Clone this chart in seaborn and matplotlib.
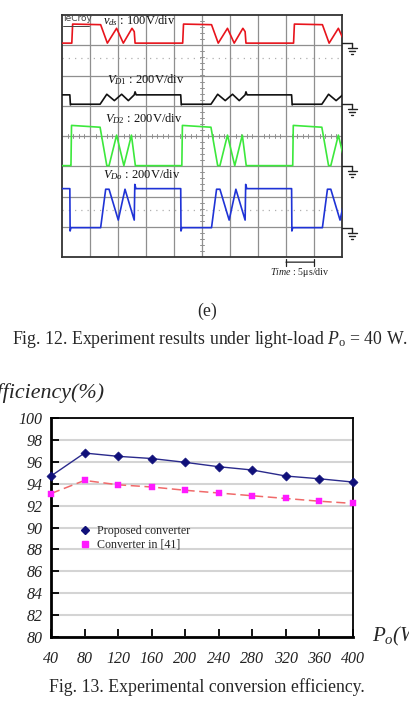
import numpy as np
import pandas as pd
import matplotlib
matplotlib.use("Agg")
import matplotlib.pyplot as plt
import seaborn as sns
from matplotlib.lines import Line2D

W, H = 409, 703

# ---------------- data: oscilloscope (units: divisions) ----------------
PERIOD = 3.96          # one switching period (div)
T0 = 0.28              # first period start (div)
vds_t = [0.00, 0.07, 0.10, 1.10, 1.34, 1.67, 1.91, 2.22, 2.30, 2.33, 3.96]
vds_v = [7.07, 7.07, 7.70, 7.68, 7.07, 7.56, 7.07, 7.56, 7.45, 7.07, 7.07]
vd1_t = [0.00, 0.02, 0.05, 1.08, 1.32, 1.59, 1.85, 2.09, 2.30, 2.33, 2.37, 3.96]
vd1_v = [5.36, 5.03, 5.05, 5.05, 5.38, 5.17, 5.38, 5.17, 5.36, 5.46, 5.36, 5.36]
vd2_t = [0.00, 0.04, 0.06, 1.08, 1.32, 1.40, 1.67, 1.93, 2.20, 2.34, 3.96]
vd2_v = [3.02, 3.02, 4.35, 4.29, 3.02, 3.02, 4.03, 3.02, 4.03, 3.02, 3.02]
vdo_t = [0.00, 0.01, 0.04, 1.10, 1.28, 1.40, 1.73, 1.97, 2.30, 2.32, 2.36, 3.96]
vdo_v = [2.26, 0.86, 0.97, 0.97, 2.24, 2.24, 1.22, 2.24, 1.22, 2.40, 2.26, 2.26]
ground_levels = [7.07, 5.05, 3.02, 0.97]
dotted_levels = [6.57, 1.55]

# ---------------- data: efficiency ----------------
power = [40, 80, 120, 160, 200, 240, 280, 320, 360, 400]
proposed = [94.7, 96.8, 96.5, 96.3, 95.95, 95.55, 95.25, 94.7, 94.45, 94.15]
conv41 = [93.1, 94.3, 93.9, 93.7, 93.4, 93.15, 92.9, 92.65, 92.4, 92.2]
yticks = list(range(80, 101, 2))
xticks = list(range(40, 401, 40))

sns.set_style("white")
plt.rcParams["font.family"] = ["Liberation Serif", "DejaVu Serif"]
plt.rcParams["mathtext.fontset"] = "custom"
plt.rcParams["mathtext.rm"] = "Liberation Serif"
plt.rcParams["mathtext.it"] = "Liberation Serif:italic"

def pt(px):
    return px * 72 / 100

def fx(px):
    return px / W

def fy(py):
    return 1 - py / H

fig = plt.figure(figsize=(W / 100, H / 100), dpi=100)
fig.patch.set_facecolor("white")

# ================= oscilloscope panel =================
ax1 = fig.add_axes([fx(62), fy(257), 280 / W, 242 / H])
ax1.set_xlim(0, 10)
ax1.set_ylim(0, 8)
for i in range(1, 10):
    ax1.axvline(i, color="#8f8f8f", lw=0.9, zorder=1)
for j in range(1, 8):
    ax1.axhline(j, color="#8f8f8f", lw=0.9, zorder=1)
for lv in dotted_levels:
    ax1.axhline(lv, color="#b0b0b0", lw=0.9, ls=(0, (1, 4)), zorder=1)
# centre-cross minor ticks
for k in np.arange(0.2, 10, 0.2):
    ax1.plot([k, k], [3.95, 4.05], color="#8f8f8f", lw=0.7, zorder=1)
for k in np.arange(0.2, 8, 0.2):
    ax1.plot([4.93, 5.07], [k, k], color="#8f8f8f", lw=0.7, zorder=1)

def tiled(ts, vs):
    tt, vv = [], []
    for k in range(-1, 3):
        tt += [t + T0 + k * PERIOD for t in ts]
        vv += list(vs)
    return pd.DataFrame({"t": tt, "v": vv})

traces = [
    (vds_t, vds_v, "#e8141c"),
    (vd1_t, vd1_v, "#111111"),
    (vd2_t, vd2_v, "#3ce83c"),
    (vdo_t, vdo_v, "#1f33d6"),
]
for ts, vs, col in traces:
    df = tiled(ts, vs)
    sns.lineplot(data=df, x="t", y="v", sort=False, estimator=None,
                 color=col, lw=1.2, ax=ax1, zorder=3)

ax1.set_xlim(0, 10)
ax1.set_ylim(0, 8)
ax1.set_xticks([])
ax1.set_yticks([])
ax1.set_xlabel("")
ax1.set_ylabel("")
for s in ax1.spines.values():
    s.set_color("#333333")
    s.set_linewidth(1.3)

# ground symbols
for lv in ground_levels:
    kw = dict(color="#222222", lw=1.0, clip_on=False, zorder=4)
    ax1.plot([10, 10.36], [lv, lv], **kw)
    ax1.plot([10.36, 10.36], [lv, lv - 0.17], **kw)
    ax1.plot([10.2, 10.52], [lv - 0.17, lv - 0.17], **kw)
    ax1.plot([10.26, 10.46], [lv - 0.27, lv - 0.27], **kw)
    ax1.plot([10.31, 10.41], [lv - 0.37, lv - 0.37], **kw)

lab = dict(fontsize=pt(12.5), va="center", ha="left", color="#111111", zorder=5)
ax1.text(1.46, 7.82, r"$v_{ds}$ : 100V/div", **lab)
ax1.text(1.60, 5.85, r"$V_{D1}$ : 200V/div", **lab)
ax1.text(1.54, 4.58, r"$V_{D2}$ : 200V/div", **lab)
ax1.text(1.48, 2.71, r"$V_{Do}$ : 200V/div", **lab)
ax1.text(0.04, 7.87, "leCroy", fontsize=pt(9), color="#444444", va="center",
         ha="left", family="DejaVu Sans", zorder=5)
ax1.plot([0.04, 0.95], [7.64, 7.64], color="#444444", lw=0.7, zorder=5)

ax1.annotate("", xy=(9, -0.17), xytext=(8, -0.17), xycoords="data",
             arrowprops=dict(arrowstyle="|-|", lw=0.9, color="#222222",
                             mutation_scale=2.5, shrinkA=0, shrinkB=0),
             annotation_clip=False)
ax1.text(8.5, -0.5, r"$\mathit{Time}$ : 5μs/div", fontsize=pt(10),
         ha="center", va="center", color="#222222")

fig.text(fx(207), fy(311), "(e)", fontsize=pt(17.8), ha="center", va="center")
fig.text(fx(210), fy(340), r"Fig. 12. Experiment results under light-load $P_{\mathrm{o}}$ = 40 W.",
         fontsize=pt(17.8), ha="center", va="center")

# ================= efficiency panel =================
ax2 = fig.add_axes([fx(51), fy(637), 302 / W, 219 / H])
df2 = pd.DataFrame({"P": power * 2, "eff": proposed + conv41,
                    "conv": ["Proposed converter"] * len(power) + ["Converter in [41]"] * len(power)})
d1 = df2[df2.conv == "Proposed converter"]
d2 = df2[df2.conv == "Converter in [41]"]
sns.lineplot(data=d1, x="P", y="eff", color="#2a2a8c", lw=1.0, ax=ax2, zorder=3)
sns.lineplot(data=d2, x="P", y="eff", color="#f06a6a", lw=1.1, ax=ax2,
             dashes=False, zorder=3, linestyle=(0, (6, 3)))
sns.scatterplot(data=d1, x="P", y="eff", marker="D", s=22, color="#10107a",
                edgecolor="#10107a", linewidth=0.4, ax=ax2, zorder=4, clip_on=False)
sns.scatterplot(data=d2, x="P", y="eff", marker="s", s=24, color="#ff1aff",
                edgecolor="#ff1aff", linewidth=0.3, ax=ax2, zorder=4, clip_on=False)

ax2.set_xlim(40, 400)
ax2.set_ylim(80, 100)
ax2.set_yticks(yticks)
ax2.set_xticks(xticks)
ax2.set_xlabel("")
ax2.set_ylabel("")
ax2.yaxis.grid(True, color="#d4d4d4", lw=1.5, zorder=0)
ax2.xaxis.grid(False)
ax2.set_axisbelow(True)
ax2.tick_params(axis="both", direction="in", length=6, width=1.3, color="black",
                labelsize=pt(16), top=False, right=False, left=True, bottom=True)
ax2.tick_params(axis="y", pad=6)
ax2.tick_params(axis="x", pad=10)
for lbl in ax2.get_xticklabels() + ax2.get_yticklabels():
    lbl.set_fontstyle("italic")
    lbl.set_color("#222222")
for side, s in ax2.spines.items():
    s.set_color("black")
    s.set_linewidth(2.0 if side in ("left", "bottom") else 1.3)

handles = [Line2D([], [], marker="D", color="#10107a", ls="", markersize=4.5),
           Line2D([], [], marker="s", color="#ff1aff", ls="", markersize=4.5)]
ax2.legend(handles, ["Proposed converter", "Converter in [41]"], frameon=False,
           loc="upper left", bbox_to_anchor=(fx(74), fy(519)),
           bbox_transform=fig.transFigure, fontsize=pt(12), handlelength=0.8,
           handletextpad=0.6, labelspacing=0.15, borderpad=0)

fig.text(fx(104), fy(393), "Efficiency(%)", fontsize=pt(22), style="italic",
         ha="right", va="center")
fig.text(fx(372), fy(636), r"$P_{o}$(W)", fontsize=pt(21), style="italic",
         ha="left", va="center")
fig.text(fx(207), fy(687), "Fig. 13. Experimental conversion efficiency.",
         fontsize=pt(17.8), ha="center", va="center")

fig.savefig("out.png", dpi=100)
